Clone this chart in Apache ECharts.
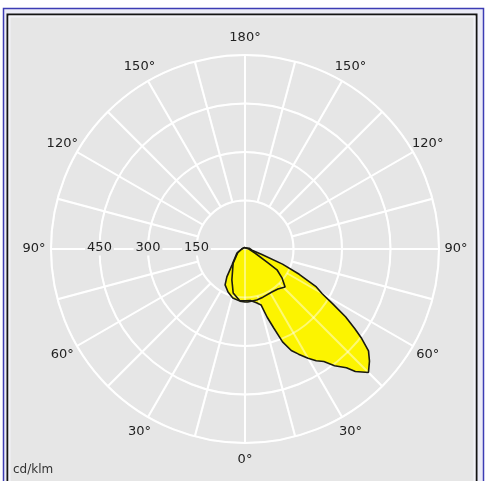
<!DOCTYPE html>
<html>
<head>
<meta charset="utf-8">
<script src="https://cdn.jsdelivr.net/npm/echarts@6/dist/echarts.min.js"></script>
<style>
  html, body { margin: 0; padding: 0; background: #ffffff; }
  #chart { width: 485px; height: 481px; }
</style>
</head>
<body>
<div id="chart"></div>
<script>
// Luminous intensity distribution, cd/klm.
// Angles: 0 = nadir (down), increasing clockwise (90 = left, 180 = up, 270 = right).

// Plane A (wide forward-throwing lobe)
const planeAAngles = [180, 210, 240, 262, 280, 288, 292, 295, 298, 300, 302, 304, 306, 307.5, 309.5, 312, 315,
  318, 319.5, 322.5, 325, 327.5, 330, 333, 335.5, 338, 340, 342, 344, 348, 354, 0, 6, 15, 23, 40, 65, 90, 120, 150, 180];
const planeAValues = [4, 4, 6, 14, 22, 55, 125, 185, 250, 275, 320, 375, 420, 455, 495, 518, 540,
  510, 483, 455, 425, 410, 390, 365, 345, 310, 260, 222, 180, 170, 160, 160, 160, 141, 104, 57, 24, 10, 6, 5, 4];

// Plane B (small lobe near nadir)
const planeBAngles = [180, 210, 240, 270, 292, 301, 303, 308, 313.5, 320.5, 328, 339.5, 347, 357, 0, 5.5, 14,
  21.5, 29, 33, 39, 63, 90, 120, 150, 180];
const planeBValues = [4, 4, 6, 12, 33, 83, 118, 145, 171, 160, 157, 159, 162, 164, 164, 162, 156,
  143, 127, 103, 64, 28, 10, 6, 5, 4];

// Grid
const ringValues = [150, 300, 450, 600];
const spokeAngles = [0, 15, 30, 45, 60, 75, 90, 105, 120, 135, 150, 165, 180, 195, 210, 225, 240, 255, 270, 285, 300, 315, 330, 345];
const angleLabelTicks = [0, 30, 60, 90, 120, 150, 180, 210, 240, 270, 300, 330];
const radiusLabelTicks = [150, 300, 450];
const unitText = 'cd/klm';

const CX = 245, CY = 249, R = 194, MAXV = 600;
const LABEL_R = 211;
const FONT = '13px "DejaVu Sans", sans-serif';
const BG = '#e6e6e6';

const chart = echarts.init(document.getElementById('chart'), null, { renderer: 'canvas' });

const toPairs = (angles, values) => angles.map((a, i) => [values[i], a]);

const gridData = spokeAngles.map(a => [MAXV, a]).concat(ringValues.map(v => [v, 0]));

function makeGridRenderer(opacity) {
  return function (params, api) {
    const i = params.dataIndex;
    const style = { stroke: '#ffffff', lineWidth: 2, opacity: opacity, fill: null };
    if (i < spokeAngles.length) {
      const a = spokeAngles[i];
      const inner = (a % 90 === 0) ? 0 : ringValues[0];
      const p0 = api.coord([inner, a]);
      const p1 = api.coord([MAXV, a]);
      return { type: 'line', shape: { x1: p0[0], y1: p0[1], x2: p1[0], y2: p1[1] }, style: style };
    }
    const v = ringValues[i - spokeAngles.length];
    const c = api.coord([0, 0]);
    const e = api.coord([v, 0]);
    const rr = Math.hypot(e[0] - c[0], e[1] - c[1]);
    return { type: 'circle', shape: { cx: c[0], cy: c[1], r: rr }, style: style };
  };
}

const graphics = [
  { type: 'rect', z: -20, silent: true, shape: { x: 3.5, y: 8.5, width: 480, height: 490 },
    style: { fill: '#ebebf7', stroke: '#3c3cb4', lineWidth: 1.5 } },
  { type: 'rect', z: -19, silent: true, shape: { x: 7.5, y: 14.5, width: 469, height: 490 },
    style: { fill: BG, stroke: '#141414', lineWidth: 2 } },
  { type: 'rect', z: -18, silent: true, shape: { x: 9.5, y: 16.5, width: 465, height: 490 },
    style: { fill: null, stroke: '#f2f2f8', lineWidth: 2 } }
];

angleLabelTicks.forEach(a => {
  const rad = a * Math.PI / 180;
  const shown = a <= 180 ? a : 360 - a;
  graphics.push({
    type: 'text', z: 50, silent: true,
    x: CX - LABEL_R * Math.sin(rad), y: CY + LABEL_R * Math.cos(rad),
    style: { text: shown + '°', font: FONT, fill: '#222222', align: 'center', verticalAlign: 'middle' }
  });
});

radiusLabelTicks.forEach(v => {
  graphics.push({
    type: 'text', z: 50, silent: true,
    x: CX - v / MAXV * R, y: CY - 1,
    style: { text: String(v), font: FONT, fill: '#222222', align: 'center', verticalAlign: 'middle',
      backgroundColor: BG, padding: [1, 2] }
  });
});

graphics.push({
  type: 'text', z: 50, silent: true, x: 13, y: 470,
  style: { text: unitText, font: '12px "DejaVu Sans", sans-serif', fill: '#333333', align: 'left', verticalAlign: 'middle' }
});

chart.setOption({
  backgroundColor: '#ffffff',
  animation: false,
  graphic: { elements: graphics },
  polar: { center: [CX, CY], radius: R },
  angleAxis: {
    type: 'value', min: 0, max: 360, interval: 15, startAngle: 270, clockwise: true,
    axisLine: { show: false }, axisTick: { show: false }, axisLabel: { show: false }, splitLine: { show: false }
  },
  radiusAxis: {
    type: 'value', min: 0, max: MAXV, interval: 150,
    axisLine: { show: false }, axisTick: { show: false }, axisLabel: { show: false }, splitLine: { show: false }
  },
  series: [
    { type: 'custom', name: 'gridUnder', coordinateSystem: 'polar', z: 1, silent: true,
      renderItem: makeGridRenderer(1), data: gridData },
    { type: 'line', name: 'fillA', coordinateSystem: 'polar', z: 2, smooth: false, showSymbol: false, symbol: 'none',
      silent: true, clip: false, lineStyle: { width: 0, opacity: 0 }, areaStyle: { color: '#fcf400', opacity: 1 },
      data: toPairs(planeAAngles, planeAValues) },
    { type: 'line', name: 'fillB', coordinateSystem: 'polar', z: 2, smooth: false, showSymbol: false, symbol: 'none',
      silent: true, clip: false, lineStyle: { width: 0, opacity: 0 }, areaStyle: { color: '#fcf400', opacity: 1 },
      data: toPairs(planeBAngles, planeBValues) },
    { type: 'custom', name: 'gridOver', coordinateSystem: 'polar', z: 3, silent: true,
      renderItem: makeGridRenderer(0.45), data: gridData },
    { type: 'line', name: 'outlineA', coordinateSystem: 'polar', z: 4, smooth: false, showSymbol: false, symbol: 'none',
      silent: true, clip: false, lineStyle: { color: '#1a1a10', width: 1.6 },
      data: toPairs(planeAAngles, planeAValues) },
    { type: 'line', name: 'outlineB', coordinateSystem: 'polar', z: 4, smooth: false, showSymbol: false, symbol: 'none',
      silent: true, clip: false, lineStyle: { color: '#1a1a10', width: 1.6 },
      data: toPairs(planeBAngles, planeBValues) }
  ]
});
</script>
</body>
</html>
